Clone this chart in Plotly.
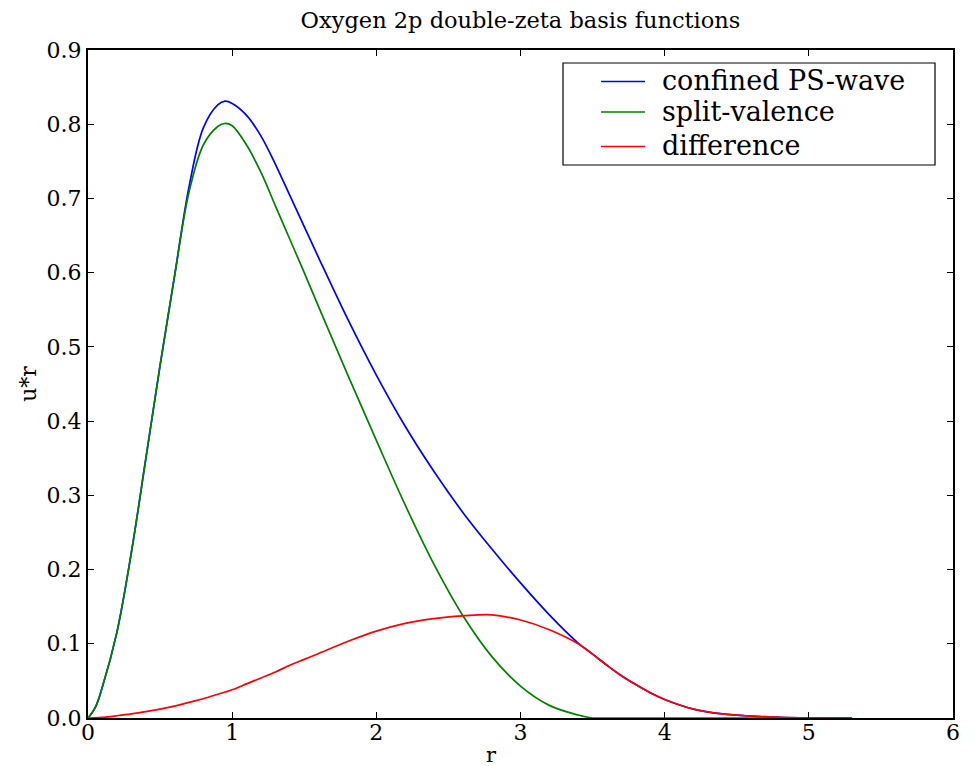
import plotly.graph_objects as go

r = [0, 0.05, 0.1, 0.2, 0.3, 0.4, 0.5, 0.6, 0.7, 0.8, 0.9, 0.95, 1.0, 1.1, 1.2, 1.3,
     1.4, 1.5, 1.6, 1.8, 2.0, 2.2, 2.4, 2.6, 2.8, 3.0, 3.2, 3.4, 3.5, 3.6, 3.7, 3.8,
     3.9, 4.0, 4.2, 4.4, 4.6, 4.8, 5.0, 5.3]

confined = [0, 0.014, 0.042, 0.115, 0.222, 0.348, 0.475, 0.595, 0.715, 0.795, 0.826,
            0.831, 0.828, 0.812, 0.784, 0.746, 0.704, 0.662, 0.620, 0.538, 0.462, 0.393,
            0.332, 0.277, 0.228, 0.182, 0.139, 0.101, 0.086, 0.071, 0.057, 0.045, 0.034,
            0.025, 0.012, 0.0055, 0.0025, 0.001, 0.0003, 0]

split = [0, 0.014, 0.042, 0.115, 0.222, 0.348, 0.475, 0.595, 0.708, 0.772, 0.797,
         0.801, 0.798, 0.772, 0.735, 0.690, 0.645, 0.600, 0.554, 0.463, 0.374, 0.287,
         0.207, 0.138, 0.083, 0.043, 0.017, 0.004, 0.0, 0, 0, 0, 0, 0, 0, 0, 0, 0, 0, 0]

difference = [0, 0.0002, 0.0008, 0.003, 0.0055, 0.0085, 0.012, 0.016, 0.021, 0.026,
              0.032, 0.035, 0.038, 0.046, 0.054, 0.062, 0.071, 0.079, 0.087, 0.103,
              0.117, 0.1275, 0.134, 0.1375, 0.139, 0.132, 0.119, 0.100, 0.086, 0.071,
              0.057, 0.045, 0.034, 0.025, 0.012, 0.0055, 0.0025, 0.001, 0.0003, 0]

names = ["confined PS-wave", "split-valence", "difference"]
colors = ["#0000ff", "#008000", "#ff0000"]
series = [confined, split, difference]

FONT = "DejaVu Serif"

fig = go.Figure()
for name, ys, c in zip(names, series, colors):
    fig.add_trace(go.Scatter(
        x=r, y=ys, mode="lines", name=name, showlegend=False,
        line=dict(color=c, width=1.7, shape="spline", smoothing=1.0),
        hoverinfo="skip",
    ))

# --- legend drawn as a framed box (matplotlib-style) in paper coordinates ---
PLOT_L, PLOT_W, PLOT_B, PLOT_H = 88, 865, 718, 668   # plot area in screen px


def px(x):
    return (x - PLOT_L) / PLOT_W


def py(y):
    return (PLOT_B - y) / PLOT_H


shapes = [dict(type="rect", xref="paper", yref="paper",
               x0=px(563), x1=px(935), y0=py(165), y1=py(63),
               line=dict(color="black", width=1.2), fillcolor="white", layer="above")]
annotations = []
row_y = [81.5, 112, 146.5]
for name, c, ry in zip(names, colors, row_y):
    shapes.append(dict(type="line", xref="paper", yref="paper",
                       x0=px(601), x1=px(645), y0=py(ry), y1=py(ry),
                       line=dict(color=c, width=1.7), layer="above"))
    annotations.append(dict(text=name, xref="paper", yref="paper",
                            x=px(660), y=py(ry - 1), xanchor="left", yanchor="middle",
                            showarrow=False,
                            font=dict(family=FONT, size=27, color="black")))

# x-axis title placed below the tick labels (as in the reference, left of the "3")
annotations.append(dict(text="r", xref="paper", yref="paper", x=px(491), y=py(755),
                        xanchor="center", yanchor="middle", showarrow=False,
                        font=dict(family=FONT, size=21, color="black")))

axis_common = dict(
    showline=True, linecolor="black", linewidth=2, mirror="allticks",
    ticks="inside", ticklen=6, tickwidth=1, tickcolor="black",
    showgrid=False, zeroline=False, automargin=False,
    tickfont=dict(family=FONT, size=22, color="black"),
)

# page body has an 8px margin, so the figure is sized/offset to compensate
fig.update_layout(
    width=966, height=758,
    margin=dict(l=80, r=21, t=42, b=48),
    paper_bgcolor="white", plot_bgcolor="white",
    font=dict(family=FONT, color="black"),
    title=dict(text="Oxygen 2p double-zeta basis functions", x=0.5, xref="paper",
               xanchor="center", y=0.984, yref="container", yanchor="middle",
               font=dict(family=FONT, size=22.5, color="black")),
    xaxis=dict(range=[0, 6], tickvals=[0, 1, 2, 3, 4, 5, 6], ticklabelstandoff=-6,
               **axis_common),
    yaxis=dict(range=[0, 0.9], tickvals=[0, 0.1, 0.2, 0.3, 0.4, 0.5, 0.6, 0.7, 0.8, 0.9],
               tickformat=".1f",
               title=dict(text="u*r", font=dict(family=FONT, size=22), standoff=4),
               **axis_common),
    shapes=shapes,
    annotations=annotations,
    showlegend=False,
)

fig.write_html("out.html")
